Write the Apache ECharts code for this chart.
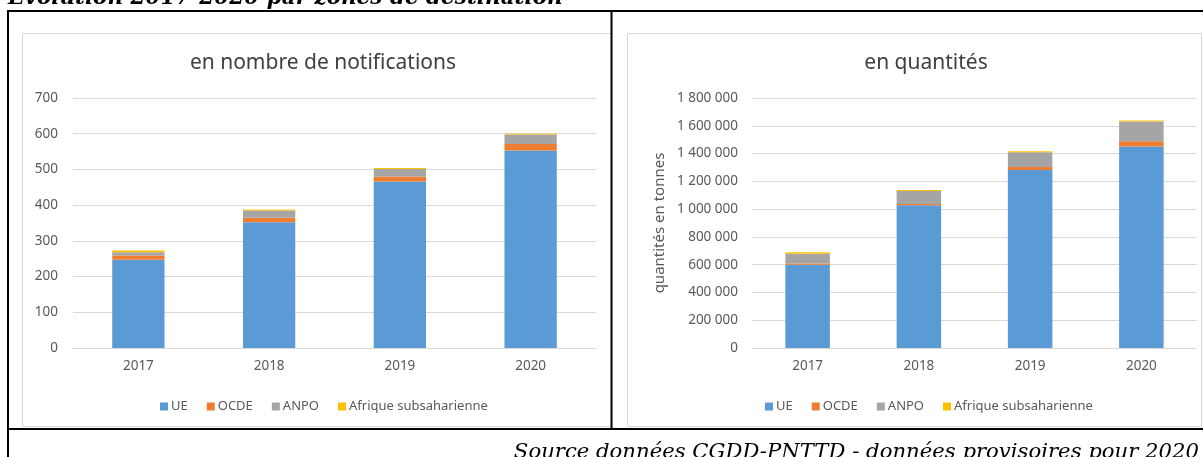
<!DOCTYPE html>
<html>
<head>
<meta charset="utf-8">
<script src="https://cdn.jsdelivr.net/npm/echarts@6/dist/echarts.min.js"></script>
<style>
html,body{margin:0;padding:0;background:#fff;}
#c{width:1203px;height:457px;}
</style>
</head>
<body>
<div id="c"></div>
<script>
const categories = ['2017', '2018', '2019', '2020'];
const seriesNames = ['UE', 'OCDE', 'ANPO', 'Afrique subsaharienne'];
const notifUE = [247, 352, 466, 553];
const notifOCDE = [12, 13, 14, 18];
const notifANPO = [9, 20, 21, 27];
const notifAfrique = [5, 3, 3, 2];
const tonnesUE = [600000, 1027000, 1282000, 1450000];
const tonnesOCDE = [8000, 10000, 22000, 39000];
const tonnesANPO = [70000, 94000, 106000, 142000];
const tonnesAfrique = [12000, 7000, 7000, 7000];
const notifTicks = [0, 700, 100];
const tonnesTicks = [0, 1800000, 200000];
const mainTitle = 'Evolution 2017-2020 par zones de destination';
const leftTitle = 'en nombre de notifications';
const rightTitle = 'en quantités';
const rightAxisName = 'quantités en tonnes';
const sourceText = 'Source données CGDD-PNTTD - données provisoires pour 2020';

const colors = ['#5B9BD5', '#ED7D31', '#A5A5A5', '#FFC000'];
const FONT = 'Noto Sans';
const txt = '#595959';

const chart = echarts.init(document.getElementById('c'), null, {renderer: 'canvas'});

function fmtSpace(v) {
  return String(v).replace(/\B(?=(\d{3})+(?!\d))/g, ' ');
}

const notifData = [notifUE, notifOCDE, notifANPO, notifAfrique];
const tonnesData = [tonnesUE, tonnesOCDE, tonnesANPO, tonnesAfrique];

const series = [];
seriesNames.forEach((n, i) => {
  series.push({name: n, type: 'bar', stack: 'a', xAxisIndex: 0, yAxisIndex: 0,
    data: notifData[i], barCategoryGap: '60%', itemStyle: {color: colors[i]}, emphasis: {disabled: true}});
});
seriesNames.forEach((n, i) => {
  series.push({name: n, type: 'bar', stack: 'b', xAxisIndex: 1, yAxisIndex: 1,
    data: tonnesData[i], barCategoryGap: '60%', itemStyle: {color: colors[i]}, emphasis: {disabled: true}});
});

const legendCommon = {
  data: seriesNames, icon: 'rect', itemWidth: 8, itemHeight: 8, itemGap: 19,
  textStyle: {fontFamily: FONT, fontSize: 13, color: txt, padding: [0, 0, 0, -2]},
  top: 395, selectedMode: false
};

const option = {
  animation: false,
  color: colors,
  title: [
    {text: leftTitle, left: 318, top: 48, textAlign: 'center',
      textStyle: {fontFamily: FONT, fontSize: 21, fontWeight: 'normal', color: '#404040'}},
    {text: rightTitle, left: 921, top: 48, textAlign: 'center',
      textStyle: {fontFamily: FONT, fontSize: 21, fontWeight: 'normal', color: '#404040'}}
  ],
  legend: [
    Object.assign({left: 155}, legendCommon),
    Object.assign({left: 760}, legendCommon)
  ],
  grid: [
    {left: 73, right: 607, top: 98, bottom: 109},
    {left: 752, right: 6, top: 98, bottom: 109}
  ],
  xAxis: [0, 1].map(i => ({
    type: 'category', gridIndex: i, data: categories,
    axisLine: {lineStyle: {color: '#D9D9D9', width: 1}},
    axisTick: {show: false},
    axisLabel: {fontFamily: FONT, fontSize: 13.5, color: txt, margin: 11}
  })),
  yAxis: [
    {type: 'value', gridIndex: 0, min: notifTicks[0], max: notifTicks[1], interval: notifTicks[2],
      axisLine: {show: false}, axisTick: {show: false},
      splitLine: {lineStyle: {color: '#D9D9D9', width: 1}},
      axisLabel: {fontFamily: FONT, fontSize: 13.5, color: txt, margin: 15}},
    {type: 'value', gridIndex: 1, min: tonnesTicks[0], max: tonnesTicks[1], interval: tonnesTicks[2],
      axisLine: {show: false}, axisTick: {show: false},
      splitLine: {lineStyle: {color: '#D9D9D9', width: 1}},
      axisLabel: {fontFamily: FONT, fontSize: 13.5, color: txt, margin: 14, formatter: fmtSpace},
      name: rightAxisName, nameLocation: 'middle', nameRotate: 90, nameGap: 85,
      nameTextStyle: {fontFamily: FONT, fontSize: 15, color: txt}}
  ],
  series: series,
  graphic: [
    {type: 'rect', shape: {x: 22.5, y: 33.5, width: 589, height: 393}, style: {fill: 'none', stroke: '#D9D9D9', lineWidth: 1}, z: 1},
    {type: 'rect', shape: {x: 627.5, y: 33.5, width: 574, height: 393}, style: {fill: 'none', stroke: '#D9D9D9', lineWidth: 1}, z: 1},
    {type: 'line', shape: {x1: 7, y1: 11, x2: 1203, y2: 11}, style: {stroke: '#000', lineWidth: 2}, z: 10},
    {type: 'line', shape: {x1: 8, y1: 10, x2: 8, y2: 457}, style: {stroke: '#000', lineWidth: 2}, z: 10},
    {type: 'line', shape: {x1: 611.5, y1: 10, x2: 611.5, y2: 429}, style: {stroke: '#000', lineWidth: 2}, z: 10},
    {type: 'line', shape: {x1: 7, y1: 429, x2: 1203, y2: 429}, style: {stroke: '#000', lineWidth: 2}, z: 10},
    {type: 'text', x: 8, y: 9, style: {text: mainTitle, fill: '#000', font: 'italic bold 21.5px "DejaVu Serif"', textAlign: 'left', textVerticalAlign: 'bottom'}, z: 10},
    {type: 'text', x: 1199, y: 463, style: {text: sourceText, fill: '#000', font: 'italic 21.2px "DejaVu Serif"', textAlign: 'right', textVerticalAlign: 'bottom'}, z: 10}
  ]
};
chart.setOption(option);
</script>
</body>
</html>
